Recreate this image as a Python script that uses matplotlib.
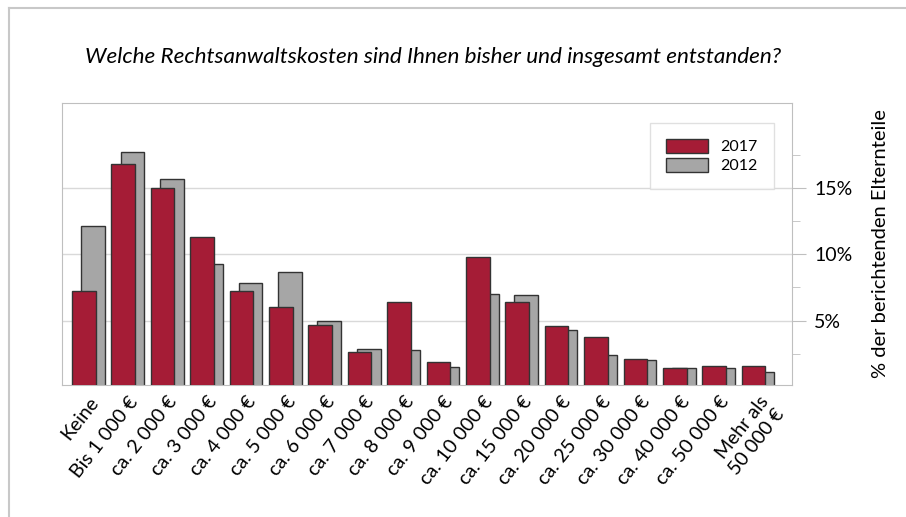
import matplotlib
matplotlib.use("Agg")
import matplotlib.pyplot as plt
from matplotlib.lines import Line2D
from matplotlib.ticker import FixedLocator, FuncFormatter
import numpy as np

plt.rcParams['font.family'] = ['Lato', 'DejaVu Sans']

categories = ['Keine', 'Bis 1 000 €', 'ca. 2 000 €', 'ca. 3 000 €', 'ca. 4 000 €',
              'ca. 5 000 €', 'ca. 6 000 €', 'ca. 7 000 €', 'ca. 8 000 €', 'ca. 9 000 €',
              'ca. 10 000 €', 'ca. 15 000 €', 'ca. 20 000 €', 'ca. 25 000 €',
              'ca. 30 000 €', 'ca. 40 000 €', 'ca. 50 000 €', 'Mehr als\n50 000 €']

v2017 = [7.2, 16.8, 15.0, 11.3, 7.2, 6.0, 4.7, 2.6, 6.4, 1.9, 9.8, 6.4, 4.6, 3.8, 2.1, 1.4, 1.6, 1.6]
v2012 = [12.1, 17.7, 15.7, 9.3, 7.8, 8.7, 5.0, 2.9, 2.8, 1.5, 7.0, 6.9, 4.3, 2.4, 2.0, 1.4, 1.4, 1.1]

major_ticks = [5, 10, 15]
minor_ticks = [2.5, 7.5, 12.5, 17.5]

red = '#A51C36'
grey = '#A6A6A6'

fig = plt.figure(figsize=(9.06, 5.17), dpi=100)
ax = fig.add_axes([62 / 906, 1 - 385 / 517, (792 - 62) / 906, (385 - 103) / 517])

x = np.arange(len(categories))
w = 0.6
off = 0.115
ax.bar(x + off, v2012, width=w, color=grey, edgecolor='#333333', linewidth=1, label='2012', zorder=2)
ax.bar(x - off, v2017, width=w, color=red, edgecolor='#333333', linewidth=1, label='2017', zorder=3)

ax.set_xlim(-0.67, len(categories) - 1 + 0.86)
ax.set_ylim(0.15, 21.4)

ax.yaxis.tick_right()
ax.yaxis.set_label_position('right')
ax.yaxis.set_major_locator(FixedLocator(major_ticks))
ax.yaxis.set_minor_locator(FixedLocator(minor_ticks))
ax.yaxis.set_major_formatter(FuncFormatter(lambda v, p: '%d%%' % v))
ax.tick_params(axis='y', which='major', length=10, color='#BFBFBF', labelsize=14, pad=6)
ax.tick_params(axis='y', which='minor', length=6, color='#BFBFBF')
ax.set_ylabel('% der berichtenden Elternteile', fontsize=14.5, labelpad=14)

ax.set_xticks(x)
ax.set_xticklabels(categories, rotation=52, ha='right', rotation_mode='anchor', fontsize=14)
ax.tick_params(axis='x', length=0, pad=6)

ax.grid(axis='y', which='major', color='#D9D9D9', linewidth=1, zorder=0)
ax.set_axisbelow(True)
for s in ax.spines.values():
    s.set_color('#BFBFBF')

handles, labels = ax.get_legend_handles_labels()
leg = ax.legend(handles[::-1], labels[::-1], loc='upper right', bbox_to_anchor=(0.975, 0.93),
                fontsize=11.5, fancybox=False, edgecolor='#D9D9D9', borderpad=1.0,
                handlelength=2.6, handleheight=1.0, labelspacing=0.2, borderaxespad=0)

fig.text(433 / 906, 1 - 57 / 517, 'Welche Rechtsanwaltskosten sind Ihnen bisher und insgesamt entstanden?',
         ha='center', va='center', fontsize=16.2, style='italic')

fig.add_artist(Line2D([8.5 / 906, 8.5 / 906], [0, 1 - 8 / 517], transform=fig.transFigure, color='#C8C8C8', lw=1.5))
fig.add_artist(Line2D([8.5 / 906, 1], [1 - 8 / 517, 1 - 8 / 517], transform=fig.transFigure, color='#C8C8C8', lw=1.5))

fig.savefig('out.png', dpi=100)
